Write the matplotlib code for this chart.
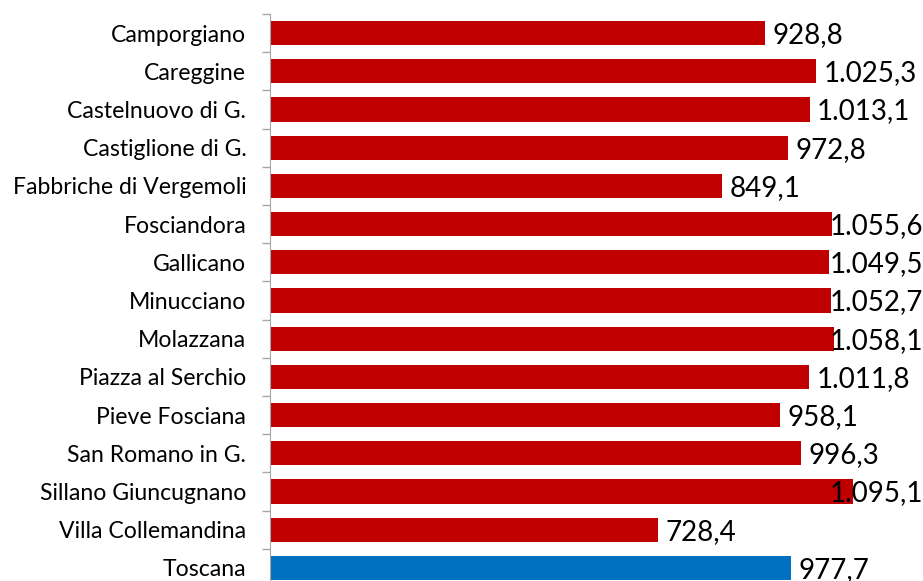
import numpy as np
import matplotlib
matplotlib.use("Agg")
import matplotlib.pyplot as plt

comuni = ["Camporgiano", "Careggine", "Castelnuovo di G.", "Castiglione di G.",
          "Fabbriche di Vergemoli", "Fosciandora", "Gallicano", "Minucciano",
          "Molazzana", "Piazza al Serchio", "Pieve Fosciana", "San Romano in G.",
          "Sillano Giuncugnano", "Villa Collemandina", "Toscana"]
valori = [928.8, 1025.3, 1013.1, 972.8, 849.1, 1055.6, 1049.5, 1052.7,
          1058.1, 1011.8, 958.1, 996.3, 1095.1, 728.4, 977.7]
etichette = ["928,8", "1.025,3", "1.013,1", "972,8", "849,1", "1.055,6", "1.049,5",
             "1.052,7", "1.058,1", "1.011,8", "958,1", "996,3", "1.095,1", "728,4", "977,7"]

plt.rcParams['font.family'] = ['Lato', 'DejaVu Sans']

fig = plt.figure(figsize=(9.23, 5.81), dpi=100)
ax = fig.add_axes([0.2925, -0.0103, 0.7075, 0.9862])

y = np.arange(len(comuni))
colori = ["#C00000"] * (len(comuni) - 1) + ["#0070C0"]
ax.barh(y, valori, height=0.63, color=colori)

ax.set_xlim(0, 1226)
ax.set_ylim(len(comuni) - 0.5, -0.5)

# etichette valori: non oltre il bordo dell'area
for yi, v, t in zip(y, valori, etichette):
    ax.text(min(v + 14, 1050), yi + 0.05, t, va='center', ha='left', fontsize=20, color='black')

ax.set_yticks(np.arange(-0.5, len(comuni)), labels=[])
ax.set_yticks(y, labels=comuni, minor=True)
ax.tick_params(axis='y', which='major', length=6, color='#A6A6A6', width=1)
ax.tick_params(axis='y', which='minor', length=0, labelsize=16.6, pad=17)
ax.set_xticks([])
for s in ['top', 'right', 'bottom']:
    ax.spines[s].set_visible(False)
ax.spines['left'].set_color('#A6A6A6')

fig.savefig("out.png", dpi=100)
